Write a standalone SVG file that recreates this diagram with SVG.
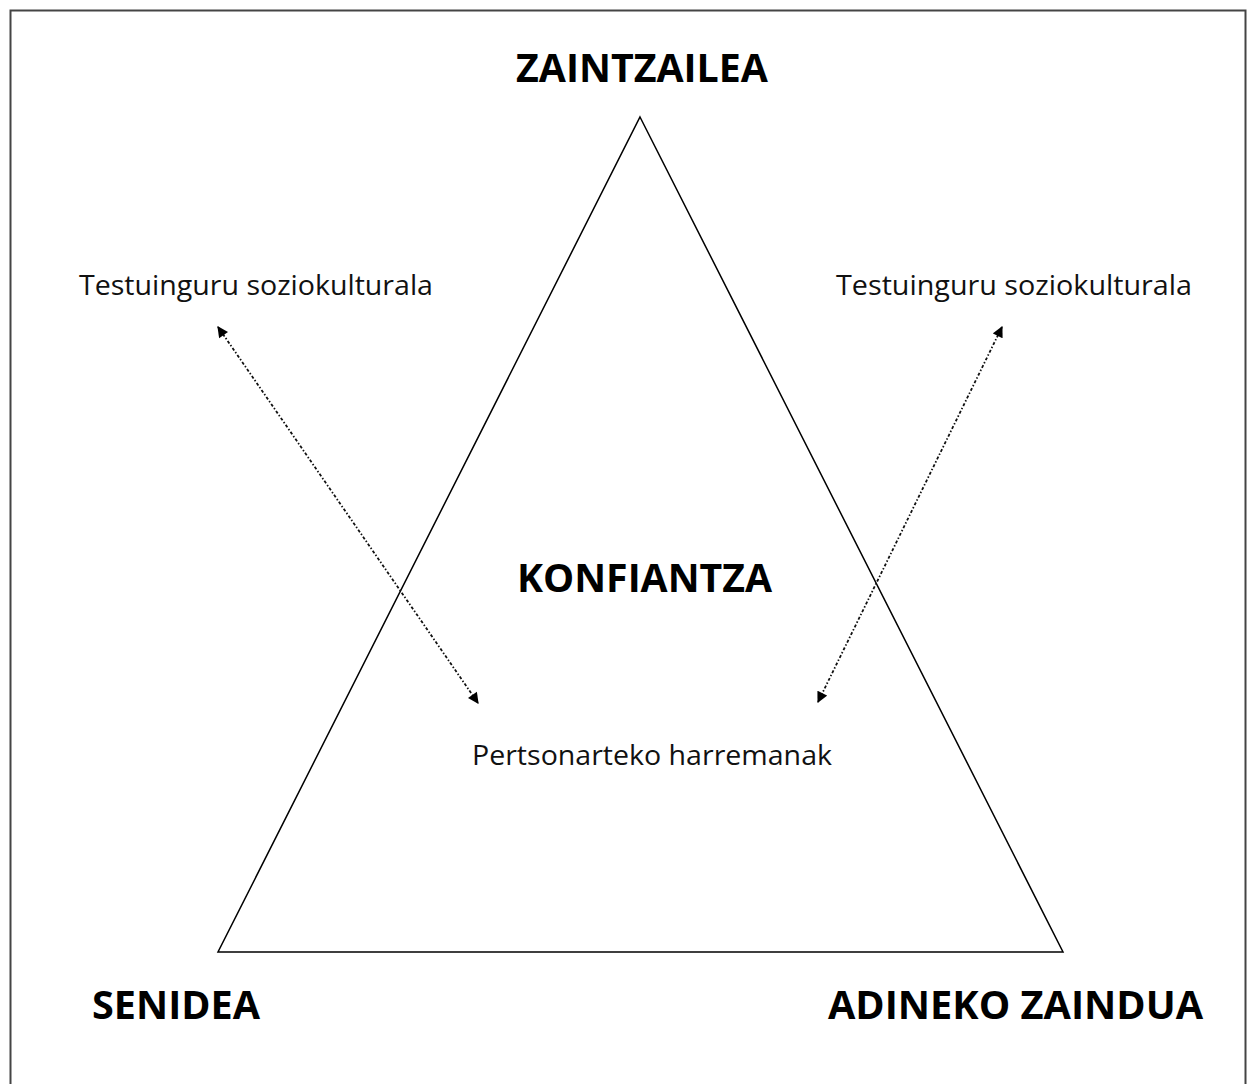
<svg xmlns="http://www.w3.org/2000/svg" width="1253" height="1084" viewBox="0 0 1253 1084">
<style>
.big{font-family:"Open Sans","Liberation Sans",sans-serif;font-weight:bold;font-size:40px;fill:#000}
.small{font-family:"Open Sans","Liberation Sans",sans-serif;font-size:27px;fill:#111}
.conn{stroke:#111;stroke-width:1.8;stroke-dasharray:3 2 1.5 2;fill:none}
</style>
<defs>
<marker id="ah" viewBox="0 0 10 10" refX="9" refY="5" markerWidth="12" markerHeight="11" markerUnits="userSpaceOnUse" orient="auto-start-reverse">
<path d="M0,0 L10,5 L0,10 z" fill="#000"/>
</marker>
</defs>
<rect width="1253" height="1084" fill="#fff"/>
<rect x="10.5" y="10.5" width="1235" height="1090" fill="none" stroke="#444" stroke-width="2"/>
<g id="triangle">
<polygon points="640,117 1063,952 218,952" fill="none" stroke="#000" stroke-width="1.5"/>
</g>
<g id="zaintzailea"><text class="big" x="516" y="82" textLength="252" lengthAdjust="spacingAndGlyphs">ZAINTZAILEA</text></g>
<g id="konfiantza"><text class="big" x="517" y="592" textLength="255" lengthAdjust="spacingAndGlyphs">KONFIANTZA</text></g>
<g id="senidea"><text class="big" x="92" y="1019" textLength="168" lengthAdjust="spacingAndGlyphs">SENIDEA</text></g>
<g id="adineko"><text class="big" x="828" y="1019" textLength="375" lengthAdjust="spacingAndGlyphs">ADINEKO ZAINDUA</text></g>
<g id="testuinguru-left"><text class="small" x="79" y="295" textLength="354" lengthAdjust="spacingAndGlyphs">Testuinguru soziokulturala</text></g>
<g id="testuinguru-right"><text class="small" x="836" y="295" textLength="356" lengthAdjust="spacingAndGlyphs">Testuinguru soziokulturala</text></g>
<g id="pertsonarteko"><text class="small" x="472" y="765" textLength="360" lengthAdjust="spacingAndGlyphs">Pertsonarteko harremanak</text></g>
<g id="connectors">
<line class="conn" x1="218" y1="327" x2="478" y2="703" marker-start="url(#ah)" marker-end="url(#ah)"/>
<line class="conn" x1="1002" y1="327" x2="818" y2="702" marker-start="url(#ah)" marker-end="url(#ah)"/>
</g>
</svg>
